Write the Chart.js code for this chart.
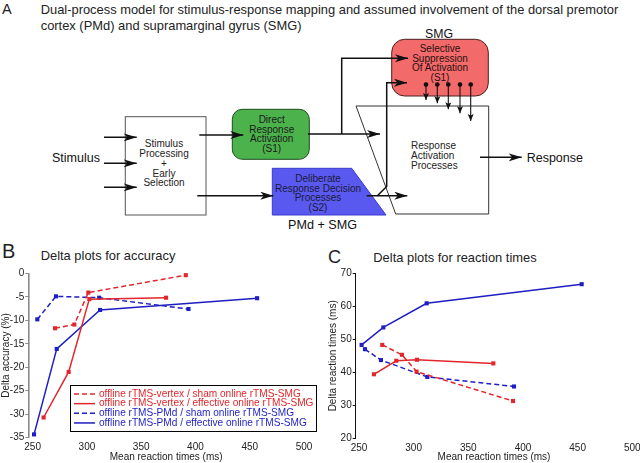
<!DOCTYPE html>
<html>
<head>
<meta charset="utf-8">
<script src="https://cdn.jsdelivr.net/npm/chart.js@4.4.1/dist/chart.umd.min.js"></script>
<style>
  body { margin: 0; background: #fff; }
  #page { position: relative; width: 640px; height: 463px; overflow: hidden; font-family: "Liberation Sans", Arial, sans-serif; }
  #art { position: absolute; left: 0; top: 0; }
  canvas { position: absolute; }
</style>
</head>
<body>
<div id="page">
<svg id="art" width="640" height="463" font-family="Liberation Sans, Arial, sans-serif">
  <defs>
    <marker id="ah" markerUnits="userSpaceOnUse" markerWidth="14" markerHeight="9" refX="13" refY="4" orient="auto">
      <path d="M0,0 L13,4 L0,8 L3.5,4 z" fill="#111"/>
    </marker>
    <marker id="sh" markerUnits="userSpaceOnUse" markerWidth="8" markerHeight="7" refX="7" refY="3" orient="auto">
      <path d="M0,0 L7,3 L0,6 L1.5,3 z" fill="#111"/>
    </marker>
  </defs>

  <!-- panel A: heading -->
  <text x="2" y="13.5" font-size="14.5" fill="#222">A</text>
  <text x="40.7" y="13.8" font-size="12.9" fill="#222">Dual-process model for stimulus-response mapping and assumed involvement of the dorsal premotor</text>
  <text x="40.7" y="29.8" font-size="12.9" fill="#222">cortex (PMd) and supramarginal gyrus (SMG)</text>

  <!-- boxes -->
  <rect x="125.3" y="116.7" width="80.7" height="98.3" fill="#fff" stroke="#555" stroke-width="1"/>
  <rect x="232.3" y="109.3" width="77" height="50" rx="10" fill="#4cb24c" stroke="#1f4a1f" stroke-width="1"/>
  <polygon points="272.3,168.3 351.7,168.3 386,215 272.3,215" fill="#5959ef" stroke="#3a3ad0" stroke-width="1"/>
  <polygon points="356,106 488.7,106 488.7,214 395.7,214" fill="#fff" stroke="#333" stroke-width="1"/>
  <rect x="391.7" y="39.3" width="96.6" height="56.7" rx="13" fill="#f26a6a" stroke="#4a2020" stroke-width="1"/>

  <!-- box texts -->
  <text x="52" y="162" font-size="12.5" fill="#111">Stimulus</text>
  <g font-size="10" fill="#222" text-anchor="middle">
    <text x="164" y="146.6">Stimulus</text>
    <text x="164" y="156.6">Processing</text>
    <text x="164" y="166.6">+</text>
    <text x="164" y="176.6">Early</text>
    <text x="164" y="186">Selection</text>
  </g>
  <g font-size="10" fill="#1a1a1a" text-anchor="middle">
    <text x="271.7" y="122.6">Direct</text>
    <text x="271.7" y="132.6">Response</text>
    <text x="271.7" y="142">Activation</text>
    <text x="271.7" y="151.6">(S1)</text>
  </g>
  <g font-size="10" fill="#1a1a3a" text-anchor="middle">
    <text x="318" y="181.6">Deliberate</text>
    <text x="318" y="191.6">Response Decision</text>
    <text x="318" y="201">Processes</text>
    <text x="318" y="210.6">(S2)</text>
  </g>
  <text x="322.5" y="228.5" font-size="12.6" fill="#111" text-anchor="middle">PMd + SMG</text>
  <g font-size="10" fill="#2a1010" text-anchor="middle">
    <text x="440" y="51.6">Selective</text>
    <text x="440" y="61.6">Suppression</text>
    <text x="440" y="71">Of Activation</text>
    <text x="440" y="81">(S1)</text>
  </g>
  <text x="439" y="37.5" font-size="12.3" fill="#111" text-anchor="middle">SMG</text>
  <g font-size="10" fill="#222">
    <text x="411" y="149.3">Response</text>
    <text x="411" y="159.3">Activation</text>
    <text x="411" y="168.6">Processes</text>
  </g>
  <text x="526.7" y="161.8" font-size="12.5" fill="#111">Response</text>

  <!-- arrows -->
  <g stroke="#111" stroke-width="1.5" fill="none">
    <line x1="104" y1="137.3" x2="136.7" y2="137.3" marker-end="url(#ah)"/>
    <line x1="104" y1="163.3" x2="136.7" y2="163.3" marker-end="url(#ah)"/>
    <line x1="104" y1="187.3" x2="136.7" y2="187.3" marker-end="url(#ah)"/>
    <line x1="199.3" y1="135" x2="243.3" y2="135" marker-end="url(#ah)"/>
    <line x1="197.3" y1="195.7" x2="273.3" y2="195.7" marker-end="url(#ah)"/>
    <line x1="308" y1="134" x2="380" y2="134" marker-end="url(#ah)"/>
    <polyline points="341.7,134 341.7,58.3 408,58.3" marker-end="url(#ah)"/>
    <line x1="366.7" y1="195.7" x2="407.3" y2="195.7" marker-end="url(#ah)"/>
    <polyline points="377.3,195.7 386.7,186.5 386.7,82.7 407,82.7" marker-end="url(#ah)"/>
    <line x1="480" y1="157.3" x2="521.7" y2="157.3" marker-end="url(#ah)"/>
  </g>
  <g stroke="#111" stroke-width="1.1" fill="#111">
    <circle cx="426" cy="84.5" r="1.8"/>
    <circle cx="437.3" cy="84.5" r="1.8"/>
    <circle cx="448.3" cy="84.5" r="1.8"/>
    <circle cx="460" cy="84.5" r="1.8"/>
    <circle cx="470.7" cy="84.5" r="1.8"/>
    <line x1="426" y1="84.5" x2="426" y2="100" marker-end="url(#sh)"/>
    <line x1="437.3" y1="84.5" x2="437.3" y2="103.3" marker-end="url(#sh)"/>
    <line x1="448.3" y1="84.5" x2="448.3" y2="109.3" marker-end="url(#sh)"/>
    <line x1="460" y1="84.5" x2="460" y2="113.3" marker-end="url(#sh)"/>
    <line x1="470.7" y1="84.5" x2="470.7" y2="121" marker-end="url(#sh)"/>
  </g>

  <!-- panel B and C headings -->
  <text x="2" y="258" font-size="20" fill="#222">B</text>
  <text x="40.7" y="259.5" font-size="12.9" fill="#222">Delta plots for accuracy</text>
  <text x="328" y="263" font-size="18" fill="#222">C</text>
  <text x="373.3" y="261.7" font-size="12.9" fill="#222">Delta plots for reaction times</text>
</svg>
<canvas id="chartB" width="320" height="201" style="left:0;top:262px"></canvas>
<canvas id="chartC" width="320" height="201" style="left:320px;top:262px"></canvas>
</div>

<script>
// series names (legend of panel B)
const seriesNames = [
  'offline rTMS-vertex / sham online rTMS-SMG',
  'offline rTMS-vertex / effective online rTMS-SMG',
  'offline rTMS-PMd / sham online rTMS-SMG',
  'offline rTMS-PMd / effective online rTMS-SMG'
];

// panel B - delta accuracy (%) against mean RT (ms)
const accRtVertexSham = [270.6, 288.4, 301.3, 391.1];
const accVertexSham   = [-11.7, -10.9, -4.1, -0.4];
const accRtVertexEff  = [260.1, 283.2, 302.2, 372.9];
const accVertexEff    = [-30.7, -21.0, -5.5, -5.2];
const accRtPmdSham    = [254.3, 271.5, 311.3, 393.6];
const accPmdSham      = [-9.8, -4.9, -5.2, -7.6];
const accRtPmdEff     = [251.3, 272.2, 312.1, 456.8];
const accPmdEff       = [-34.3, -16.1, -7.8, -5.3];

// panel C - delta RT (ms) against mean RT (ms)
const rtRtVertexSham = [271.3, 289.3, 302.7, 390.9];
const rtVertexSham   = [48.3, 45.3, 40.2, 31.3];
const rtRtVertexEff  = [263.7, 284.1, 303.0, 372.9];
const rtVertexEff    = [39.4, 43.5, 43.8, 42.7];
const rtRtPmdSham    = [255.5, 270.1, 312.5, 391.8];
const rtPmdSham      = [47.0, 43.7, 38.6, 35.7];
const rtRtPmdEff     = [252.4, 272.3, 311.9, 453.7];
const rtPmdEff       = [48.3, 53.6, 60.9, 66.7];

// tick labels
const xTickValues   = [250, 300, 350, 400, 450, 500];
const accTickValues = [0, -5, -10, -15, -20, -25, -30, -35];
const rtTickValues  = [70, 60, 50, 40, 30, 20];

const RED = '#e2262a';
const BLUE = '#1e1ec4';

Chart.defaults.font.family = '"Liberation Sans", Arial, sans-serif';
Chart.defaults.color = '#222';

function toPoints(xs, ys) {
  return xs.map((x, i) => ({ x: x, y: ys[i] }));
}

function makeSet(label, xs, ys, color, dashed) {
  return {
    label: label,
    data: toPoints(xs, ys),
    showLine: true,
    borderColor: color,
    backgroundColor: color,
    borderWidth: 1.5,
    borderDash: dashed ? [5, 3] : [],
    pointStyle: 'rect',
    pointRadius: 2.9,
    pointBorderWidth: 0,
    tension: 0,
    clip: false
  };
}

function fixedTicks(values) {
  return s => { s.ticks = values.map(v => ({ value: v })); };
}

// legend box drawn inside panel B
const legendBox = {
  id: 'legendBox',
  afterDatasetsDraw(chart) {
    const ctx = chart.ctx;
    ctx.save();
    ctx.fillStyle = '#fff';
    ctx.fillRect(70, 123, 246, 46);
    ctx.strokeStyle = '#000';
    ctx.lineWidth = 1;
    ctx.strokeRect(70.5, 123.5, 246, 46);
    chart.data.datasets.forEach((ds, i) => {
      const y = 132 + i * 9.65;
      ctx.strokeStyle = ds.borderColor;
      ctx.lineWidth = 1.5;
      ctx.setLineDash(ds.borderDash);
      ctx.beginPath();
      ctx.moveTo(74, y);
      ctx.lineTo(95, y);
      ctx.stroke();
      ctx.setLineDash([]);
      ctx.fillStyle = ds.borderColor;
      ctx.font = '10.1px "Liberation Sans", Arial, sans-serif';
      ctx.textBaseline = 'middle';
      ctx.fillText(ds.label, 99, y);
    });
    ctx.restore();
  }
};

function makeOptions(o) {
  return {
    responsive: false,
    animation: false,
    layout: { padding: { top: o.padTop, right: o.padRight, bottom: 0, left: 0 } },
    plugins: { legend: { display: false }, tooltip: { enabled: false } },
    scales: {
      x: {
        type: 'linear',
        min: o.xMin,
        max: 500,
        afterBuildTicks: fixedTicks(xTickValues),
        afterFit: s => { s.height = o.xHeight; s.paddingLeft = 0; s.paddingRight = 0; },
        grid: { display: false, drawTicks: false, tickLength: 0 },
        border: { display: false },
        ticks: { font: { size: 10 }, padding: 4, maxRotation: 0 },
        title: { display: true, text: 'Mean reaction times (ms)', font: { size: 10 }, padding: 0 }
      },
      y: {
        type: 'linear',
        min: o.yMin,
        max: o.yMax,
        afterBuildTicks: fixedTicks(o.yTicks),
        afterFit: s => { s.width = o.yWidth; s.paddingTop = 0; s.paddingBottom = 0; },
        grid: { drawOnChartArea: false, tickLength: 3, color: o.axisColor },
        border: { color: o.axisColor, width: o.axisWidth },
        ticks: { font: { size: 10 }, padding: 1 },
        title: { display: true, text: o.yTitle, font: { size: 10 }, padding: { top: o.yTitlePad, bottom: 0 } }
      }
    }
  };
}

new Chart(document.getElementById('chartB'), {
  type: 'scatter',
  data: {
    datasets: [
      makeSet(seriesNames[0], accRtVertexSham, accVertexSham, RED, true),
      makeSet(seriesNames[1], accRtVertexEff, accVertexEff, RED, false),
      makeSet(seriesNames[2], accRtPmdSham, accPmdSham, BLUE, true),
      makeSet(seriesNames[3], accRtPmdEff, accPmdEff, BLUE, false)
    ]
  },
  options: makeOptions({
    padTop: 11.3, padRight: 16, xMin: 246, xHeight: 25.3,
    yMin: -35, yMax: 0, yTicks: accTickValues, yWidth: 28.3,
    axisColor: '#8a8a8a', axisWidth: 1.6,
    yTitle: 'Delta accuracy (%)', yTitlePad: 0
  }),
  plugins: [legendBox]
});

new Chart(document.getElementById('chartC'), {
  type: 'scatter',
  data: {
    datasets: [
      makeSet(seriesNames[0], rtRtVertexSham, rtVertexSham, RED, true),
      makeSet(seriesNames[1], rtRtVertexEff, rtVertexEff, RED, false),
      makeSet(seriesNames[2], rtRtPmdSham, rtPmdSham, BLUE, true),
      makeSet(seriesNames[3], rtRtPmdEff, rtPmdEff, BLUE, false)
    ]
  },
  options: makeOptions({
    padTop: 11.3, padRight: 7.7, xMin: 247, xHeight: 24.7,
    yMin: 20, yMax: 70, yTicks: rtTickValues, yWidth: 35.7,
    axisColor: '#111', axisWidth: 1,
    yTitle: 'Delta reaction times (ms)', yTitlePad: 7
  })
});
</script>
</body>
</html>
